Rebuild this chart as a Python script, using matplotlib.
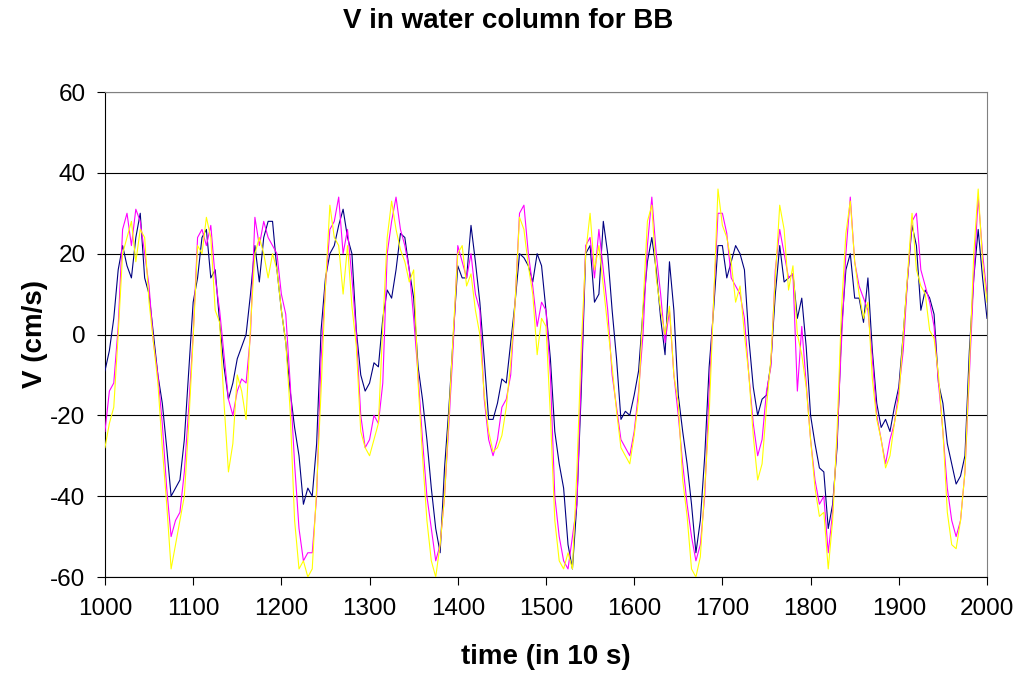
import numpy as np
import matplotlib.pyplot as plt

# time axis (in 10 s), one sample every 5 units
time = np.arange(1000, 2001, 5)

# V (cm/s), 10 values per row = 50 time units
v_navy = [
    -9, -4, 4, 16, 22, 17, 14, 24, 30, 14,
    10, 0, -10, -17, -28, -40, -38, -36, -26, -9,
    8, 14, 24, 26, 14, 16, 3, -8, -16, -12,
    -6, -3, 0, 10, 22, 13, 24, 28, 28, 16,
    6, -2, -14, -23, -30, -42, -38, -40, -27, 1,
    14, 20, 22, 27, 31, 24, 20, 1, -10, -14,
    -12, -7, -8, 4, 11, 9, 16, 25, 24, 16,
    9, -8, -16, -26, -38, -48, -54, -33, -18, 0,
    17, 14, 14, 27, 18, 8, -6, -21, -21, -17,
    -11, -12, -2, 8, 20, 19, 17, 13, 20, 17,
    6, -6, -24, -32, -38, -52, -58, -42, -14, 20,
    22, 8, 10, 28, 20, 6, -6, -21, -19, -20,
    -15, -9, 6, 18, 24, 16, 4, -5, 18, 6,
    -15, -24, -32, -42, -54, -46, -30, -8, 6, 22,
    22, 14, 18, 22, 20, 16, -1, -13, -20, -16,
    -15, -7, 10, 22, 13, 14, 15, 4, 9, -3,
    -20, -27, -33, -34, -48, -42, -28, 1, 16, 20,
    9, 9, 3, 14, -4, -17, -23, -21, -24, -18,
    -13, 0, 14, 27, 22, 6, 11, 9, 5, -12,
    -17, -27, -32, -37, -35, -30, -4, 14, 26, 14,
    4,
]

v_magenta = [
    -24, -14, -12, 2, 26, 30, 22, 31, 28, 20,
    12, -2, -10, -22, -38, -50, -46, -44, -34, -18,
    0, 24, 26, 22, 27, 14, 6, -5, -16, -20,
    -14, -11, -12, 0, 29, 22, 28, 24, 22, 20,
    10, 5, -12, -32, -48, -56, -54, -54, -40, -6,
    12, 26, 28, 34, 20, 26, 14, 0, -20, -28,
    -26, -20, -22, -12, 20, 28, 34, 26, 22, 16,
    4, -10, -26, -40, -48, -56, -52, -40, -22, -2,
    22, 18, 14, 20, 10, 6, -16, -26, -30, -26,
    -18, -16, -10, 8, 30, 32, 20, 12, 2, 8,
    6, -10, -40, -50, -56, -58, -50, -42, -10, 22,
    24, 14, 26, 16, 6, -10, -18, -26, -28, -30,
    -24, -14, 0, 22, 34, 20, 10, -2, 6, -10,
    -20, -32, -42, -50, -56, -52, -40, -14, 8, 30,
    30, 25, 14, 12, 10, 4, -10, -22, -30, -26,
    -14, -8, 16, 26, 20, 14, 15, -14, 2, -12,
    -26, -36, -42, -40, -54, -44, -26, -2, 20, 34,
    18, 12, 9, 6, -6, -20, -26, -32, -26, -22,
    -14, -4, 14, 28, 30, 16, 12, 8, 2, -12,
    -24, -38, -46, -50, -46, -34, -10, 14, 34, 20,
    10,
]

v_yellow = [
    -28, -22, -18, 0, 20, 24, 28, 18, 26, 24,
    8, -2, -12, -28, -42, -58, -52, -46, -40, -22,
    -1, 22, 20, 29, 24, 6, 3, -17, -34, -27,
    -10, -14, -21, 2, 20, 24, 20, 14, 20, 16,
    6, -2, -19, -46, -58, -56, -60, -58, -38, -14,
    12, 32, 24, 22, 10, 22, 7, -3, -24, -28,
    -30, -26, -22, 2, 24, 33, 26, 21, 18, 13,
    16, -12, -30, -46, -56, -60, -52, -40, -20, 1,
    20, 22, 12, 15, 6, 0, -15, -24, -29, -28,
    -25, -18, -7, 8, 29, 26, 17, 10, -5, 4,
    2, -20, -46, -56, -58, -54, -58, -34, -3, 20,
    30, 16, 22, 12, 2, -8, -19, -28, -30, -32,
    -25, -16, 7, 28, 32, 14, 6, 0, 7, -10,
    -17, -36, -45, -58, -60, -55, -38, -20, 8, 36,
    27, 24, 18, 8, 12, 0, -10, -25, -36, -32,
    -18, -6, 14, 32, 26, 11, 17, 0, -5, -13,
    -26, -38, -45, -44, -58, -46, -24, 6, 25, 33,
    18, 10, 4, 8, -11, -21, -26, -33, -30, -22,
    -16, 0, 15, 30, 16, 12, 10, 1, -1, -10,
    -24, -44, -52, -53, -46, -34, -8, 20, 36, 18,
    8,
]

series = [
    (v_navy, "#000080"),
    (v_magenta, "#FF00FF"),
    (v_yellow, "#FFFF00"),
]

plt.rcParams["font.family"] = ["Liberation Sans", "DejaVu Sans"]
plt.rcParams["axes.unicode_minus"] = False

fig = plt.figure(figsize=(10.17, 6.77), dpi=100)
ax = fig.add_axes([0.1032, 0.1477, 0.8673, 0.7164])

for vals, col in series:
    ax.plot(time, vals, color=col, lw=0.8, zorder=3)

ax.set_xlim(1000, 2000)
ax.set_ylim(-60, 60)
ax.set_xticks(np.arange(1000, 2001, 100))
ax.set_yticks(np.arange(-60, 61, 20))
ax.yaxis.grid(True, color="black", lw=0.8)
ax.set_axisbelow(True)

for side in ["top", "right"]:
    ax.spines[side].set_color("#808080")
for side in ["left", "bottom"]:
    ax.spines[side].set_color("black")
ax.tick_params(direction="out", length=6, labelsize=17.5, width=0.8)
ax.tick_params(axis="x", pad=9)
ax.tick_params(axis="y", pad=8)

# axis titles and chart title, bold Arial-like as in the Excel original
fig.text(0.537, 0.0295, "time (in 10 s)", fontsize=20, fontweight="bold",
         ha="center", va="center")
fig.text(0.034, 0.506, "V (cm/s)", fontsize=20, fontweight="bold",
         ha="center", va="center", rotation=90)
fig.text(0.4995, 0.969, "V in water column for BB", fontsize=20,
         fontweight="bold", ha="center", va="center")

fig.savefig("out.png", dpi=100)
